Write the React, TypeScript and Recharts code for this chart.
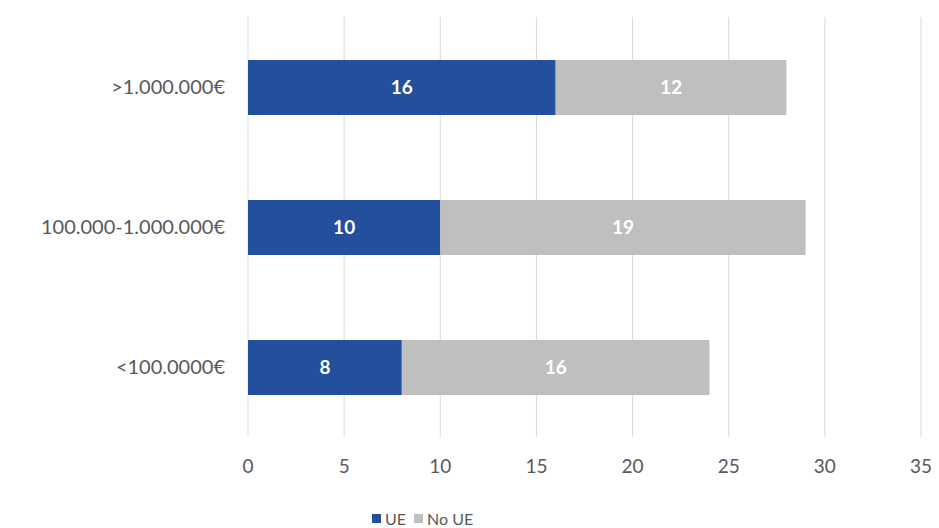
import React from "react";
import { BarChart, Bar, XAxis, YAxis, CartesianGrid, Legend, LabelList } from "recharts";

const categories = [">1.000.000€", "100.000-1.000.000€", "<100.0000€"];
const ueValues = [16, 10, 8];
const noUeValues = [12, 19, 16];
const xTicks = [0, 5, 10, 15, 20, 25, 30, 35];

const data = categories.map((c, i) => ({ name: c, ue: ueValues[i], noue: noUeValues[i] }));

const FONT = "Lato, 'Open Sans', sans-serif";

const LegendContent = () => (
  <div style={{ display: "flex", alignItems: "center", fontFamily: FONT, fontSize: 16, color: "#595959", height: 24 }}>
    <span style={{ display: "inline-block", width: 9, height: 9, background: "#234f9c", marginRight: 4 }} />
    <span style={{ marginRight: 8 }}>UE</span>
    <span style={{ display: "inline-block", width: 9, height: 9, background: "#bfbfbf", marginRight: 4 }} />
    <span>No UE</span>
  </div>
);

export default function App() {
  return (
    <div style={{ position: "absolute", left: 0, top: 0, width: 939, height: 528, background: "#fff" }}>
      <BarChart
        width={939}
        height={528}
        data={data}
        layout="vertical"
        margin={{ top: 17, right: 18, left: 0, bottom: 27 }}
        barSize={55}
      >
        <CartesianGrid horizontal={false} stroke="#d9d9d9" />
        <XAxis
          type="number"
          domain={[0, 35]}
          ticks={xTicks}
          axisLine={false}
          tickLine={false}
          tickMargin={17}
          height={40}
          tick={{ fill: "#595959", fontSize: 19, fontFamily: FONT }}
        />
        <YAxis
          type="category"
          dataKey="name"
          width={248}
          axisLine={false}
          tickLine={false}
          tickMargin={17}
          tick={{ fill: "#595959", fontSize: 20, fontFamily: FONT }}
        />
        <Legend
          content={<LegendContent />}
          wrapperStyle={{ left: 372, width: "auto", top: 506 }}
        />
        <Bar dataKey="ue" stackId="a" fill="#234f9c" isAnimationActive={false}>
          <LabelList dataKey="ue" position="center" fill="#ffffff" fontSize={19} fontWeight="bold" fontFamily={FONT} />
        </Bar>
        <Bar dataKey="noue" stackId="a" fill="#bfbfbf" isAnimationActive={false}>
          <LabelList dataKey="noue" position="center" fill="#ffffff" fontSize={19} fontWeight="bold" fontFamily={FONT} />
        </Bar>
      </BarChart>
    </div>
  );
}
